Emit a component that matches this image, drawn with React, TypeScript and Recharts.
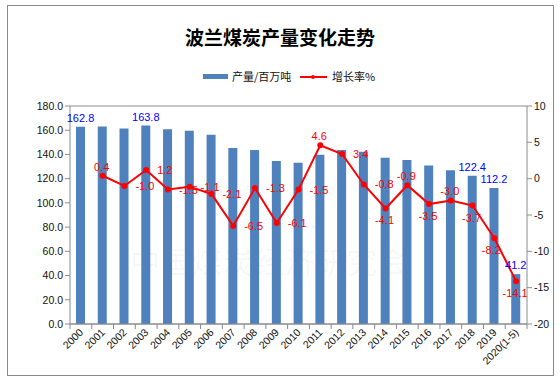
import React from 'react';
import {
  ComposedChart, Bar, Line, XAxis, YAxis, CartesianGrid, Legend, LabelList,
} from 'recharts';

const years = ['2000', '2001', '2002', '2003', '2004', '2005', '2006', '2007', '2008', '2009', '2010',
  '2011', '2012', '2013', '2014', '2015', '2016', '2017', '2018', '2019', '2020(1-5)'];
const production = [162.8, 163.1, 161.5, 163.8, 160.8, 159.5, 156.2, 145.4, 143.6, 134.6, 133.1,
  139.7, 143.6, 142.3, 137.2, 135.4, 130.8, 126.9, 122.4, 112.2, 41.2];
const growth = [null, 0.4, -1.0, 1.2, -1.5, -1.1, -2.1, -6.5, -1.3, -6.1, -1.5,
  4.6, 3.4, -0.8, -4.1, -0.9, -3.5, -3.0, -3.7, -8.2, -14.1];
const labeledProductionYears = ['2000', '2003', '2018', '2019', '2020(1-5)'];
const leftTicks = [0, 20, 40, 60, 80, 100, 120, 140, 160, 180];
const rightTicks = [-20, -15, -10, -5, 0, 5, 10];

// label placement for growth labels (layout only)
const growthLabelSide: Record<string, string> = {
  '2001': 'top', '2011': 'top', '2014': 'bottom', '2015': 'top', '2016': 'bottom',
  '2017': 'top', '2018': 'bottom', '2019': 'bottomLeft', '2020(1-5)': 'bottom',
};

const data = years.map((y, i) => ({ year: y, production: production[i], growth: growth[i] }));

const W = 560;
const H = 385;
const PLOT_LEFT = 70;
const PLOT_RIGHT = 527;
const PLOT_TOP = 90;
const PLOT_BOTTOM = 324;
const BAND = (PLOT_RIGHT - PLOT_LEFT) / years.length;
const FONT = '"Liberation Sans", Arial, sans-serif';
const CJK = '"Noto Sans CJK SC", sans-serif';

const XTick = (props: any) => {
  const { x, y, payload, index } = props;
  const last = index === years.length - 1;
  const ty = y + 9;
  return (
    <g>
      <line x1={x - BAND / 2} y1={y} x2={x - BAND / 2} y2={y + 5} stroke="#888" />
      {last && <line x1={x + BAND / 2} y1={y} x2={x + BAND / 2} y2={y + 5} stroke="#888" />}
      <text x={x + 3} y={ty} textAnchor="end" fontSize={10.5} fontFamily={FONT} fill="#111"
        transform={`rotate(-45 ${x + 3} ${ty})`}>{payload.value}</text>
    </g>
  );
};

const BarLabel = (props: any) => {
  const { x, y, width, index } = props;
  const yr = years[index];
  if (!labeledProductionYears.includes(yr)) return null;
  return (
    <text x={x + width / 2} y={y - 5} textAnchor="middle" fontSize={11} fontFamily={FONT} fill="#0000FF">
      {production[index].toFixed(1)}
    </text>
  );
};

const GrowthLabel = (props: any) => {
  const { x, y, value, index } = props;
  if (value === null || value === undefined) return null;
  const side = growthLabelSide[years[index]] || 'right';
  let tx = x + 11;
  let ty = y + 4;
  let anchor: any = 'start';
  if (side === 'top') { tx = x - 1; ty = y - 5; anchor = 'middle'; }
  if (side === 'bottom') { tx = x - 1; ty = y + 16; anchor = 'middle'; }
  if (side === 'bottomLeft') { tx = x - 3; ty = y + 16; anchor = 'middle'; }
  return (
    <text x={tx} y={ty} textAnchor={anchor} fontSize={11} fontFamily={FONT} fill="#FF0000">
      {Number(value).toFixed(1)}
    </text>
  );
};

const LegendContent = () => (
  <div style={{ position: 'relative', height: 16, fontFamily: CJK, fontSize: 11, color: '#111' }}>
    <div style={{ position: 'absolute', left: 203, top: 5, width: 25, height: 5, background: '#4F81BD' }} />
    <div style={{ position: 'absolute', left: 232, top: 0, lineHeight: '15px' }}>产量/百万吨</div>
    <div style={{ position: 'absolute', left: 300, top: 7, width: 27, height: 2, background: '#FF0000' }} />
    <div style={{ position: 'absolute', left: 311, top: 6, width: 4, height: 4, borderRadius: 2, background: '#FF0000' }} />
    <div style={{ position: 'absolute', left: 332, top: 0, lineHeight: '15px' }}>增长率%</div>
  </div>
);

export default function App() {
  return (
    <div style={{ position: 'absolute', left: 0, top: 0, width: W, height: H, background: '#fff' }}>
      <div style={{
        position: 'absolute', left: 7, top: 5, width: 547, height: 371,
        border: '1.5px solid #8a8a8a', boxSizing: 'border-box',
      }} />
      <div style={{
        position: 'absolute', left: 130, top: 238, fontFamily: CJK, fontSize: 30,
        color: 'rgba(0,0,0,0.045)', letterSpacing: 1, whiteSpace: 'nowrap',
      }}>中国煤炭经济研究会</div>
      <div style={{
        position: 'absolute', left: 0, top: 24, width: W, textAlign: 'center',
        fontFamily: CJK, fontWeight: 700, fontSize: 19, color: '#000', lineHeight: '26px',
      }}>波兰煤炭产量变化走势</div>
      <div style={{ position: 'absolute', left: 0, top: 0 }}>
        <ComposedChart width={W} height={H} data={data}
          margin={{ top: PLOT_TOP, right: 0, bottom: 0, left: 0 }}>
          <CartesianGrid horizontal vertical={false} stroke="#8c8c8c" />
          <XAxis dataKey="year" height={H - PLOT_BOTTOM} tick={<XTick />} tickLine={false}
            tickSize={0} tickMargin={0} interval={0} stroke="#8c8c8c" />
          <YAxis yAxisId="left" width={PLOT_LEFT} domain={[0, 180]} ticks={leftTicks}
            tickFormatter={(v: number) => v.toFixed(1)} stroke="#8c8c8c" tickSize={5} tickMargin={2}
            tick={{ fontSize: 10.5, fontFamily: FONT, fill: '#111' }} />
          <YAxis yAxisId="right" orientation="right" width={W - PLOT_RIGHT} domain={[-20, 10]}
            ticks={rightTicks} stroke="#8c8c8c" tickSize={5} tickMargin={2}
            tick={{ fontSize: 10.5, fontFamily: FONT, fill: '#111' }} />
          <Legend verticalAlign="top" content={<LegendContent />}
            wrapperStyle={{ top: 69, left: 0, width: W }} />
          <Bar yAxisId="left" dataKey="production" fill="#4F81BD" barSize={9} isAnimationActive={false}>
            <LabelList dataKey="production" content={<BarLabel />} />
          </Bar>
          <Line yAxisId="right" dataKey="growth" stroke="#FF0000" strokeWidth={2}
            dot={{ r: 2, fill: '#FF0000', stroke: '#FF0000' }} isAnimationActive={false}
            connectNulls={false}>
            <LabelList dataKey="growth" content={<GrowthLabel />} />
          </Line>
        </ComposedChart>
      </div>
    </div>
  );
}
